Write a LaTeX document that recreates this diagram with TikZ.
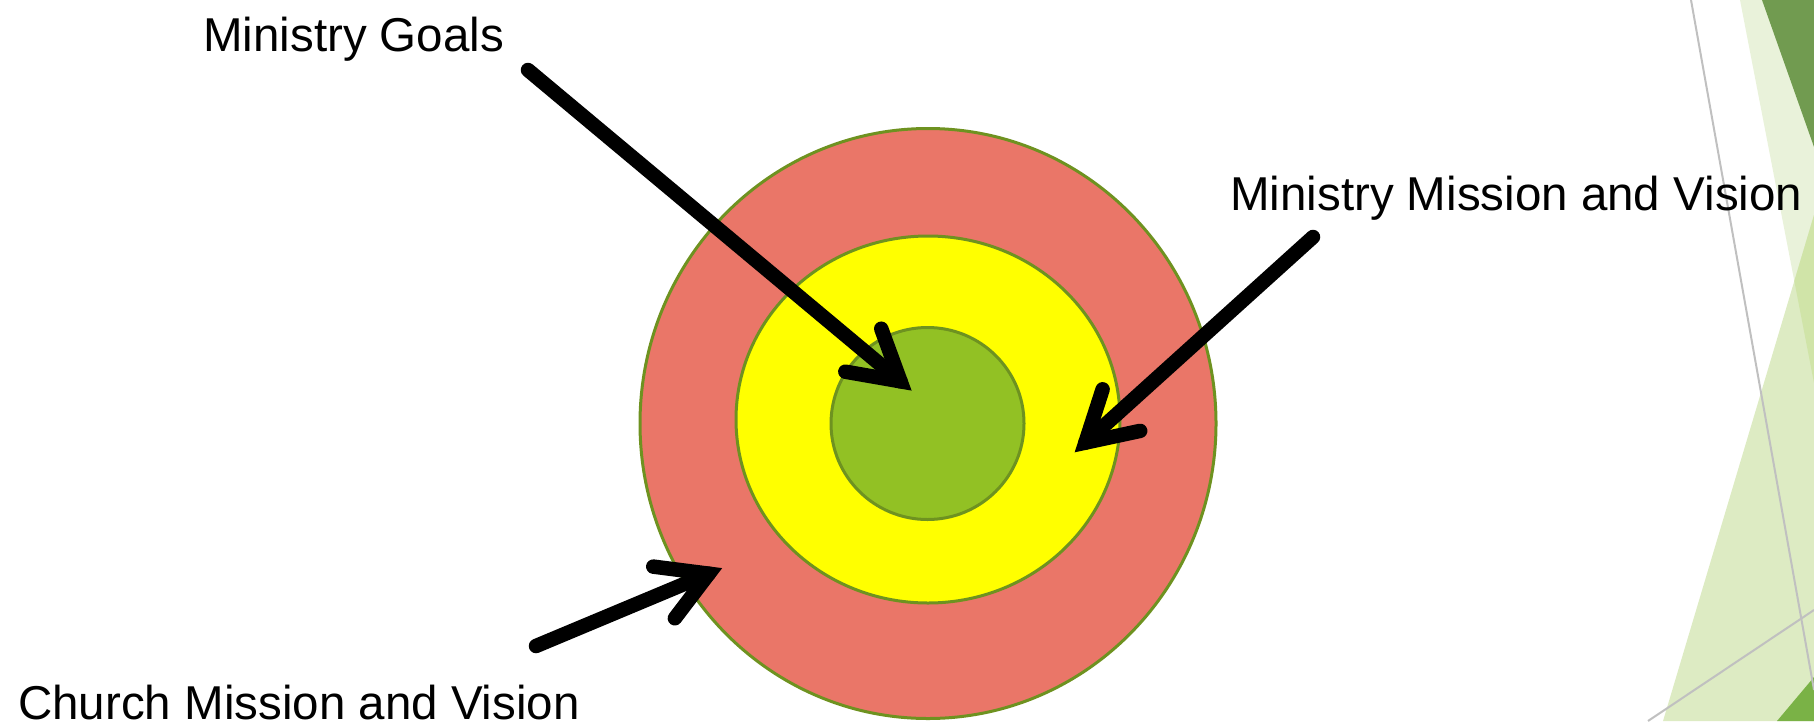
\documentclass[tikz,border=0pt]{standalone}
\usepackage{fontspec}
\setmainfont{Liberation Sans}
\usetikzlibrary{calc}
\definecolor{salmon}{RGB}{234,118,104}
\definecolor{tyellow}{RGB}{255,255,0}
\definecolor{tgreen}{RGB}{146,193,36}
\definecolor{rimgreen}{RGB}{110,146,32}
\definecolor{paleband}{RGB}{233,242,218}
\definecolor{midtri}{RGB}{221,235,195}
\definecolor{overlapg}{RGB}{208,228,168}
\definecolor{darktop}{RGB}{113,155,80}
\definecolor{darkbot}{RGB}{122,178,70}
\definecolor{thingray}{RGB}{192,192,192}
\newcommand\tgtarrow[2]{%
  \draw[arrowshaft] (#1) -- (#2);
  \draw[arrowbarb] ($(#2)!56pt!30:(#1)$) -- (#2) -- ($(#2)!56pt!-30:(#1)$);
}
\begin{document}
\begin{tikzpicture}[x=1pt,y=-1pt,
  ring/.style={draw=rimgreen, line width=3pt},
  arrowshaft/.style={draw=black, line width=14.5pt, line cap=round},
  arrowbarb/.style={draw=black, line width=14.5pt, line cap=round, line join=miter},
  lbl/.style={anchor=base west, inner sep=0pt, font=\fontsize{47.5}{57}\selectfont},
  grayline/.style={draw=thingray, line width=2pt}]
\useasboundingbox (0,0) rectangle (1814,721);
\clip (0,0) rectangle (1814,721);
% background decorations
\fill[paleband] (1740,0) -- (1814,0) -- (1814,383) -- cycle;
\fill[midtri] (1814,215) -- (1663,721) -- (1814,721) -- cycle;
\begin{scope}
  \clip (1814,215) -- (1663,721) -- (1814,721) -- cycle;
  \fill[overlapg] (1740,0) -- (1814,0) -- (1814,383) -- cycle;
\end{scope}
\fill[darktop] (1762,0) -- (1814,0) -- (1814,147) -- cycle;
\fill[darkbot] (1814,677) -- (1814,721) -- (1777,721) -- cycle;
\draw[grayline] (1691,0) -- (1814,690);
\draw[grayline] (1648,721) -- (1814,610);
% target
\filldraw[ring, fill=salmon] (928,423.5) ellipse [x radius=288, y radius=295];
\filldraw[ring, fill=tyellow] (928,419.5) ellipse [x radius=192, y radius=183.5];
\filldraw[ring, fill=tgreen] (927.5,423.5) ellipse [x radius=96.5, y radius=96];
% labels
\node[lbl] (goals) at (203,51) {Ministry Goals};
\node[lbl] (mission) at (1230,210) {Ministry Mission and Vision};
\node[lbl] (church) at (18,719) {Church Mission and Vision};
% arrows
\coordinate (gs) at (528,70);
\coordinate (gt) at (900.5,381.3);
\coordinate (ms) at (1313,237);
\coordinate (mt) at (1085.4,442.6);
\coordinate (cs) at (536,646);
\coordinate (ct) at (708.8,573.7);
\tgtarrow{gs}{gt}
\tgtarrow{ms}{mt}
\tgtarrow{cs}{ct}
\end{tikzpicture}
\end{document}
